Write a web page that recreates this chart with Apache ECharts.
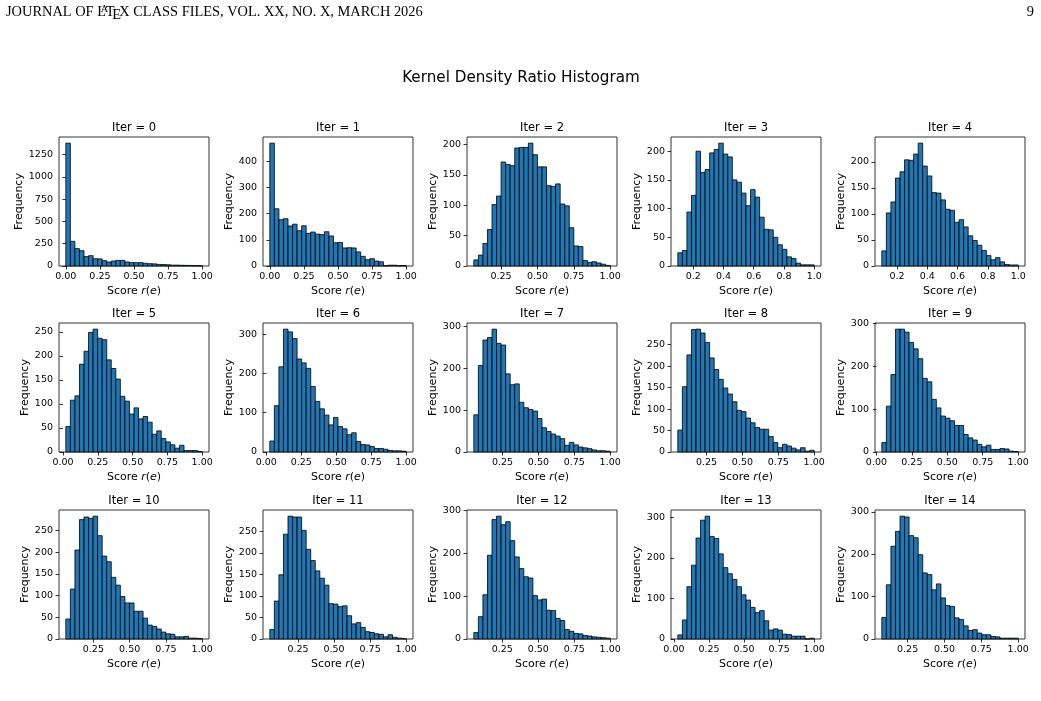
<!DOCTYPE html>
<html><head><meta charset="utf-8">
<script src="https://cdn.jsdelivr.net/npm/echarts@6/dist/echarts.min.js"></script>
<style>html,body{margin:0;padding:0;background:#fff}#c{width:1041px;height:701px}</style>
</head><body><div id="c"></div>
<script>
// ---------------- data ----------------
const iterTitles = ['Iter = 0','Iter = 1','Iter = 2','Iter = 3','Iter = 4','Iter = 5','Iter = 6','Iter = 7','Iter = 8','Iter = 9','Iter = 10','Iter = 11','Iter = 12','Iter = 13','Iter = 14'];
// histogram counts (30 bins each)
const counts0  = [1380,277,195,172,105,116,82,80,60,45,56,63,63,45,38,37,38,30,26,24,18,17,14,10,10,8,7,6,4,3];
const counts1  = [470,219,177,181,153,160,135,154,125,130,122,120,131,115,89,90,69,70,69,54,37,24,28,19,16,1,3,3,1,2];
const counts2  = [10,18,37,60,101,115,171,167,165,194,195,195,202,183,163,163,132,131,135,102,99,63,33,32,9,6,7,5,3,1];
const counts3  = [23,27,94,123,200,163,168,197,203,214,195,190,150,146,127,105,133,120,85,64,63,50,37,29,16,13,5,2,2,2];
const counts4  = [29,102,123,169,181,204,203,215,236,192,173,141,140,127,109,107,84,89,75,58,49,40,30,20,12,16,8,3,2,2];
const counts5  = [53,108,117,183,210,249,256,237,234,192,174,152,116,106,79,92,69,74,62,37,44,28,21,15,8,14,3,3,3,1];
const counts6  = [28,118,217,313,306,289,237,227,213,167,129,110,94,69,88,65,59,44,49,27,19,18,14,9,9,7,4,3,3,2];
const counts7  = [89,207,268,274,294,260,256,187,161,163,119,106,102,98,80,58,49,43,38,32,16,23,17,12,10,8,5,3,3,2];
const counts8  = [51,152,226,285,286,277,255,219,192,169,149,135,117,97,94,79,68,57,53,53,36,22,10,18,14,9,5,10,2,4];
const counts9  = [22,107,181,287,287,280,256,241,218,172,164,123,103,84,79,73,62,62,41,33,28,18,12,16,6,6,8,7,2,1];
const counts10 = [46,115,205,275,281,278,283,238,191,178,142,124,98,83,83,64,64,48,32,29,23,16,12,11,5,5,6,2,2,1];
const counts11 = [22,88,149,243,285,283,283,252,208,182,158,141,125,82,81,75,77,54,35,38,27,17,15,12,11,5,10,4,2,1];
const counts12 = [15,52,103,195,278,286,266,273,229,191,164,145,142,101,91,93,67,66,48,43,22,18,13,12,8,7,5,4,3,2];
const counts13 = [10,47,129,182,249,293,303,253,248,210,176,161,147,129,109,96,78,65,70,45,22,25,22,12,11,7,7,7,0,2];
const counts14 = [51,128,219,254,290,288,244,239,199,156,152,116,130,97,79,77,50,46,31,20,22,14,10,10,6,5,2,2,2,2];
const allCounts = [counts0,counts1,counts2,counts3,counts4,counts5,counts6,counts7,counts8,counts9,counts10,counts11,counts12,counts13,counts14];
// score range (min, max) of each histogram
const scoreMin = [0,0,0.0625,0.098,0.1,0.02,0.025,0.05,0.05,0.038,0.06,0.055,0.052,0.028,0.075];
const scoreMax = [1,1,1,1,1,1,1,1,1,1,1,1,1,1,1];
// tick labels
const xTicksQ = [0,0.25,0.5,0.75,1];
const xTicksQ2 = [0.25,0.5,0.75,1];
const xTicksF = [0.2,0.4,0.6,0.8,1.0];
const xTickSets = [xTicksQ,xTicksQ,xTicksQ2,xTicksF,xTicksF,xTicksQ,xTicksQ,xTicksQ2,xTicksQ2,xTicksQ,xTicksQ2,xTicksQ2,xTicksQ2,xTicksQ,xTicksQ2];
const yT1250 = [0,250,500,750,1000,1250];
const yT400 = [0,100,200,300,400];
const yT200 = [0,50,100,150,200];
const yT250 = [0,50,100,150,200,250];
const yT300 = [0,100,200,300];
const yTickSets = [yT1250,yT400,yT200,yT200,yT200,yT250,yT300,yT300,yT250,yT300,yT250,yT250,yT300,yT300,yT300];

// ---------------- layout / style ----------------
const colLeft = [59,263,467,671,875];
const rowTop = [137,323,510];
const W = 150, H = 129;
const FONT = 'DejaVu Sans';
const SERIF = 'Liberation Serif';

const grids=[], xAxes=[], yAxes=[], series=[], graphics=[];

function renderBar(params, api){
  const p0 = api.coord([api.value(0), api.value(2)]);
  const p1 = api.coord([api.value(1), 0]);
  return {type:'rect', shape:{x:p0[0], y:p0[1], width:p1[0]-p0[0], height:p1[1]-p0[1]},
    style:{fill:'#1f77b4', stroke:'#000', lineWidth:0.8}};
}

for (let i=0;i<15;i++){
  const col=i%5, row=Math.floor(i/5);
  const c=allCounts[i], a=scoreMin[i], b=scoreMax[i], n=c.length, w=(b-a)/n;
  const data=c.map((v,k)=>[a+k*w, a+(k+1)*w, v]);
  const ymax=Math.max(...c)*1.05;
  const xt=xTickSets[i], yt=yTickSets[i];
  const dec = (xt===xTicksF)?1:2;
  const ylen = String(yt[yt.length-1]).length;
  grids.push({left:colLeft[col], top:rowTop[row], width:W, height:H, show:true,
    borderColor:'#000', borderWidth:0.8, backgroundColor:'rgba(0,0,0,0)', containLabel:false, outerBoundsMode:'none'});
  xAxes.push({type:'value', gridIndex:i, min:a-0.05*(b-a), max:b+0.05*(b-a),
    axisLine:{show:false}, splitLine:{show:false},
    axisTick:{show:true, length:3.5, lineStyle:{color:'#000', width:0.8}, customValues:xt},
    axisLabel:{customValues:xt, formatter:v=>Number(v).toFixed(dec), fontFamily:FONT, fontSize:9.5, color:'#000', margin:6, showMinLabel:true, showMaxLabel:true, hideOverlap:false},
    name:'Score {i|r}({i|e})', nameLocation:'middle', nameGap:20,
    nameTextStyle:{fontFamily:FONT, fontSize:11, color:'#000', rich:{i:{fontFamily:FONT, fontStyle:'italic', fontSize:11, color:'#000'}}}
  });
  yAxes.push({type:'value', gridIndex:i, min:0, max:ymax,
    axisLine:{show:false}, splitLine:{show:false},
    axisTick:{show:true, length:3.5, lineStyle:{color:'#000', width:0.8}, customValues:yt},
    axisLabel:{customValues:yt, formatter:v=>String(Math.round(v)), fontFamily:FONT, fontSize:9.5, color:'#000', margin:6, showMinLabel:true, showMaxLabel:true, hideOverlap:false},
    name:'Frequency', nameLocation:'middle', nameGap: ylen>=4 ? 32 : 26, nameRotate:90,
    nameTextStyle:{fontFamily:FONT, fontSize:11, color:'#000'}
  });
  series.push({type:'custom', coordinateSystem:'cartesian2d', xAxisIndex:i, yAxisIndex:i,
    encode:{x:[0,1], y:2}, renderItem:renderBar, data:data, clip:false, silent:true});
  graphics.push({type:'text', x:colLeft[col]+W/2, y:rowTop[row]-9,
    style:{text:iterTitles[i], fontFamily:FONT, fontSize:11.5, fill:'#000', align:'center', verticalAlign:'middle'}});
}

// suptitle
graphics.push({type:'text', x:521, y:78, style:{text:'Kernel Density Ratio Histogram', fontFamily:FONT, fontSize:15.2, fill:'#000', align:'center', verticalAlign:'middle'}});

// running header with LaTeX logo
(function(){
  const fs=14.4;
  const cv=document.createElement('canvas').getContext('2d');
  const tw=(t,s)=>{cv.font=s+'px "'+SERIF+'"'; return cv.measureText(t).width;};
  const y=12;
  let x=6;
  const parts=[];
  const add=(t,s,dy)=>{parts.push({type:'text', x:x, y:y+dy, style:{text:t, fontFamily:SERIF, fontSize:s, fill:'#000', align:'left', verticalAlign:'middle'}});};
  add('JOURNAL OF L',fs,0); x+=tw('JOURNAL OF L',fs)-0.36*fs;
  add('A',fs*0.7,-0.16*fs); x+=tw('A',fs*0.7)-0.15*fs;
  add('T',fs,0); x+=tw('T',fs)-0.1667*fs;
  add('E',fs,0.22*fs); x+=tw('E',fs)-0.125*fs;
  add('X CLASS FILES, VOL. XX, NO. X, MARCH 2026',fs,0);
  parts.forEach(p=>graphics.push(p));
  graphics.push({type:'text', x:1034, y:y, style:{text:'9', fontFamily:SERIF, fontSize:fs, fill:'#000', align:'right', verticalAlign:'middle'}});
})();

const chart=echarts.init(document.getElementById('c'), null, {renderer:'canvas'});
chart.setOption({animation:false, backgroundColor:'#fff', grid:grids, xAxis:xAxes, yAxis:yAxes, series:series, graphic:graphics});
</script></body></html>
